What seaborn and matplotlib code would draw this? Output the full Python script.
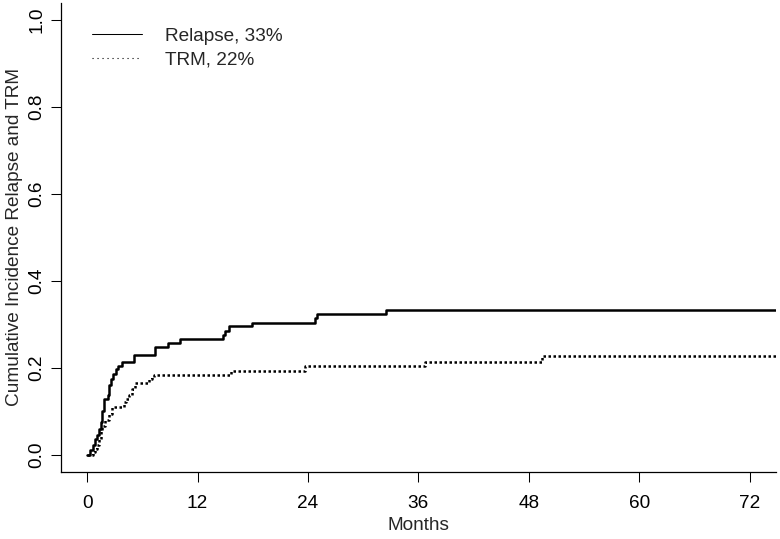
import pandas as pd
import seaborn as sns
import matplotlib.pyplot as plt
from matplotlib.lines import Line2D

# Cumulative incidence step curves (months, probability)
relapse_months = [0, 0.3, 0.65, 0.9, 1.1, 1.3, 1.45, 1.65, 1.8, 2.25, 2.4, 2.6, 2.85, 3.1, 3.4, 3.8,
                  5.05, 7.4, 8.8, 10.1, 14.8, 15.0, 15.4, 17.9, 24.8, 25.0, 32.5, 76]
relapse_ci = [0, 0.01, 0.023, 0.035, 0.045, 0.06, 0.075, 0.10, 0.128, 0.138, 0.16, 0.175, 0.186, 0.196, 0.204, 0.212,
              0.23, 0.248, 0.257, 0.266, 0.276, 0.284, 0.295, 0.304, 0.314, 0.324, 0.333, 0.333]

trm_months = [0, 0.6, 0.9, 1.1, 1.3, 1.45, 1.65, 1.9, 2.35, 2.7, 4.0, 4.2, 4.5, 4.9, 5.25, 6.7, 7.05, 7.25,
              15.6, 23.7, 36.7, 49.4, 76]
trm_ci = [0, 0.005, 0.012, 0.022, 0.035, 0.054, 0.065, 0.08, 0.094, 0.11, 0.12, 0.128, 0.138, 0.15, 0.165, 0.174, 0.179, 0.184,
          0.193, 0.203, 0.213, 0.226, 0.226]

legend_labels = ['Relapse, 33%', 'TRM, 22%']
x_ticks = [0, 12, 24, 36, 48, 60, 72]
y_ticks = [0.0, 0.2, 0.4, 0.6, 0.8, 1.0]

relapse = pd.DataFrame({'Months': relapse_months, 'CI': relapse_ci})
trm = pd.DataFrame({'Months': trm_months, 'CI': trm_ci})

sns.set_theme(style='ticks')
plt.rcParams['font.family'] = ['Liberation Sans', 'DejaVu Sans']

fig = plt.figure(figsize=(7.8, 5.39), dpi=100)
ax = fig.add_axes([0.0778, 0.1243, 0.995 - 0.0778, 0.995 - 0.1243])

sns.lineplot(data=relapse, x='Months', y='CI', ax=ax, color='black', linewidth=1.8,
             drawstyle='steps-post', estimator=None, sort=False)
sns.lineplot(data=trm, x='Months', y='CI', ax=ax, color='black', linewidth=1.8,
             linestyle=(0, (1, 1)), drawstyle='steps-post', estimator=None, sort=False)

ax.set_xlim(-2.88, 74.88)
ax.set_ylim(-0.04, 1.04)
ax.set_xticks(x_ticks)
ax.set_yticks(y_ticks)
ax.set_yticklabels([f'{v:.1f}' for v in y_ticks])
ax.set_xlabel('Months', fontsize=13.7, labelpad=4)
ax.set_ylabel('Cumulative Incidence Relapse and TRM', fontsize=13.7, labelpad=4)

sns.despine(ax=ax)
for s in ['left', 'bottom']:
    ax.spines[s].set_linewidth(0.9)
    ax.spines[s].set_color('black')
ax.tick_params(direction='out', length=7.2, width=0.75, color='black', labelsize=13.7, labelcolor='black')
ax.tick_params(axis='x', pad=9)
ax.tick_params(axis='y', pad=4, labelrotation=90)
for lab in ax.get_yticklabels():
    lab.set_va('center')

# legend with thin handles, no frame
handles = [Line2D([], [], color='black', linewidth=0.75),
           Line2D([], [], color='black', linewidth=0.8, linestyle=(0, (1, 3.5)))]
ax.legend(handles, legend_labels, loc='upper left', bbox_to_anchor=(0.044, 0.947),
          frameon=False, fontsize=13.7, handlelength=2.6, handletextpad=1.25,
          borderpad=0, borderaxespad=0, labelspacing=0.35)

fig.savefig('out.png', dpi=100)
plt.close('all')
